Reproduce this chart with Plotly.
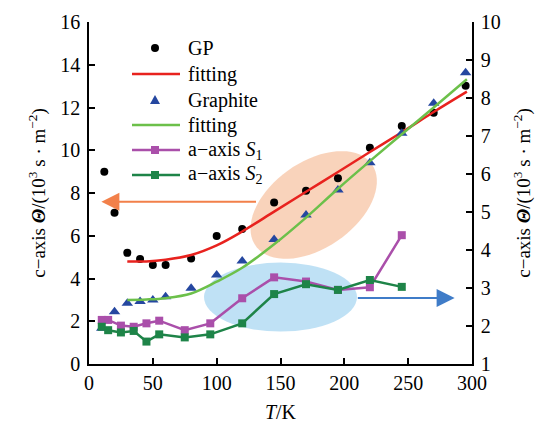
import numpy as np
import plotly.graph_objects as go

# ---------------- data ----------------
gp_T = [12, 20, 30, 40, 50, 60, 80, 100, 120, 145, 170, 195, 220, 245, 270, 295]
gp_theta = [9.0, 7.08, 5.2, 4.91, 4.63, 4.63, 4.93, 5.99, 6.32, 7.55, 8.11, 8.69, 10.12, 11.13, 11.76, 13.02]

gr_T = [10, 20, 30, 40, 50, 60, 80, 100, 120, 145, 170, 195, 220, 245, 270, 295]
gr_theta = [1.67, 2.45, 2.84, 2.92, 2.99, 3.15, 3.54, 4.16, 4.82, 5.83, 6.97, 8.14, 9.42, 10.79, 12.2, 13.63]

fit_T = [30, 45, 60, 80, 100, 120, 145, 170, 195, 220, 245, 270, 296]
fit_gp = [4.8, 4.8, 4.88, 5.1, 5.55, 6.2, 7.13, 8.06, 8.98, 9.92, 10.84, 11.79, 12.74]
fit_gr = [3.0, 3.02, 3.08, 3.3, 3.85, 4.5, 5.6, 6.85, 8.2, 9.49, 10.75, 12.0, 13.32]

s_T = [10, 15, 25, 35, 45, 55, 75, 95, 120, 145, 170, 195, 220, 245]
s1 = [2.16, 2.16, 2.01, 1.98, 2.07, 2.14, 1.89, 2.07, 2.73, 3.28, 3.17, 2.95, 3.02, 4.39]
s2 = [1.98, 1.89, 1.83, 1.87, 1.59, 1.78, 1.70, 1.78, 2.07, 2.84, 3.10, 2.95, 3.21, 3.03]

x_ticks = [0, 50, 100, 150, 200, 250, 300]
y_ticks = [0, 2, 4, 6, 8, 10, 12, 14, 16]
y2_ticks = [1, 2, 3, 4, 5, 6, 7, 8, 9, 10]

legend_names = ["GP", "fitting", "Graphite", "fitting",
                "a\u2212axis <i>S</i><sub>1</sub>", "a\u2212axis <i>S</i><sub>2</sub>"]

# ---------------- layout geometry ----------------
W, H = 539, 425
ML, MR, MT, MB = 89, 67, 22, 61
PW, PH = W - ML - MR, H - MT - MB
XR = (0, 300)
YR = (0, 16)
px_x = PW / (XR[1] - XR[0])
px_y = PH / (YR[1] - YR[0])

FONT = "Times New Roman, Liberation Serif, DejaVu Serif, serif"
ytitle = "c\u2212axis <b><i>\u0398</i></b>/(10<sup>3</sup> s \u00b7 m<sup>\u22122</sup>)"

C_RED, C_LGREEN = "#E8221E", "#6CC04A"
C_BLUE, C_MAG, C_DGREEN = "#2547A0", "#AA4FAA", "#1E8448"

fig = go.Figure()

fig.add_trace(go.Scatter(x=gp_T, y=gp_theta, mode="markers", showlegend=False,
                         marker=dict(symbol="circle", size=8, color="black")))
fig.add_trace(go.Scatter(x=fit_T, y=fit_gp, mode="lines", showlegend=False,
                         line=dict(color=C_RED, width=2.5, shape="spline")))
fig.add_trace(go.Scatter(x=gr_T, y=gr_theta, mode="markers", showlegend=False,
                         marker=dict(symbol="triangle-up", size=10, color=C_BLUE)))
fig.add_trace(go.Scatter(x=fit_T, y=fit_gr, mode="lines", showlegend=False,
                         line=dict(color=C_LGREEN, width=2.5, shape="spline")))
fig.add_trace(go.Scatter(x=s_T, y=s1, mode="lines+markers", showlegend=False,
                         yaxis="y2", line=dict(color=C_MAG, width=2.5),
                         marker=dict(symbol="square", size=8, color=C_MAG)))
fig.add_trace(go.Scatter(x=s_T, y=s2, mode="lines+markers", showlegend=False,
                         yaxis="y2", line=dict(color=C_DGREEN, width=2.5),
                         marker=dict(symbol="square", size=8, color=C_DGREEN)))


def ellipse_path(cx, cy, a_px, b_px, ang_deg, n=72):
    t = np.linspace(0, 2 * np.pi, n)
    th = np.deg2rad(ang_deg)
    dx = a_px * np.cos(t) * np.cos(th) - b_px * np.sin(t) * np.sin(th)
    dy = a_px * np.cos(t) * np.sin(th) + b_px * np.sin(t) * np.cos(th)
    xs = cx + dx / px_x
    ys = cy + dy / px_y
    return "M %f,%f " % (xs[0], ys[0]) + " ".join("L %f,%f" % (x, y) for x, y in zip(xs[1:], ys[1:])) + " Z"


fig.add_shape(type="path", path=ellipse_path(176, 7.44, 71, 43, 35), xref="x", yref="y",
              fillcolor="rgba(248,206,180,0.9)", line=dict(width=0), layer="below")
fig.add_shape(type="circle", x0=150 - 76.5 / px_x, x1=150 + 76.5 / px_x,
              y0=3.13 - 34.5 / px_y, y1=3.13 + 34.5 / px_y, xref="x", yref="y",
              fillcolor="rgba(184,222,244,0.9)", line=dict(width=0), layer="below")

fig.add_annotation(x=9.7, y=7.59, ax=132, ay=7.59, xref="x", yref="y", axref="x", ayref="y",
                   text="", showarrow=True, arrowhead=2, arrowsize=1.8, arrowwidth=2,
                   arrowcolor="#F2804A", standoff=0)
fig.add_annotation(x=286.4, y=3.09, ax=209.4, ay=3.09, xref="x", yref="y", axref="x", ayref="y",
                   text="", showarrow=True, arrowhead=2, arrowsize=1.8, arrowwidth=2,
                   arrowcolor="#3F7CC8", standoff=0)

# ---------------- hand-built legend (pixel layout -> paper coords) ----------------
def PX(p):
    return (p - ML) / PW


def PY(p):
    return (H - MB - p) / PH


LEG_L0, LEG_L1, LEG_M, LEG_T = 132, 180, 155, 186
LEG_ROWS = [48, 74, 100, 125, 150, 175]
legend_style = [
    ("marker", "circle", "black"),
    ("line", None, C_RED),
    ("marker", "triangle", C_BLUE),
    ("line", None, C_LGREEN),
    ("linemarker", "square", C_MAG),
    ("linemarker", "square", C_DGREEN),
]

for name, yy, (kind, sym, col) in zip(legend_names, LEG_ROWS, legend_style):
    if kind in ("line", "linemarker"):
        fig.add_shape(type="line", xref="paper", yref="paper",
                      x0=PX(LEG_L0), x1=PX(LEG_L1), y0=PY(yy), y1=PY(yy),
                      line=dict(color=col, width=2.5))
    if sym == "circle":
        r = 4
        fig.add_shape(type="circle", xref="paper", yref="paper",
                      x0=PX(LEG_M - r), x1=PX(LEG_M + r), y0=PY(yy + r), y1=PY(yy - r),
                      fillcolor=col, line=dict(width=0))
    elif sym == "square":
        r = 4
        fig.add_shape(type="rect", xref="paper", yref="paper",
                      x0=PX(LEG_M - r), x1=PX(LEG_M + r), y0=PY(yy + r), y1=PY(yy - r),
                      fillcolor=col, line=dict(width=0))
    elif sym == "triangle":
        p = "M %f,%f L %f,%f L %f,%f Z" % (PX(LEG_M - 5), PY(yy + 4), PX(LEG_M + 5), PY(yy + 4),
                                           PX(LEG_M), PY(yy - 5))
        fig.add_shape(type="path", xref="paper", yref="paper", path=p,
                      fillcolor=col, line=dict(width=0))
    fig.add_annotation(x=PX(LEG_T), y=PY(yy), xref="paper", yref="paper", text=name,
                       showarrow=False, xanchor="left", yanchor="middle",
                       font=dict(family=FONT, size=20, color="black"))

axis_common = dict(showgrid=False, zeroline=False, showline=True, linecolor="black", linewidth=1.5,
                   ticks="inside", ticklen=6, tickwidth=1.5, tickcolor="black", automargin=False,
                   tickfont=dict(family=FONT, size=20, color="black"))

fig.update_layout(
    width=W, height=H,
    margin=dict(l=ML, r=MR, t=MT, b=MB),
    paper_bgcolor="white", plot_bgcolor="white",
    font=dict(family=FONT, size=19, color="black"),
    xaxis=dict(range=list(XR), tickvals=x_ticks, ticklabelstandoff=0, **axis_common,
               title=dict(text="<i>T</i>/K", font=dict(family=FONT, size=20), standoff=12)),
    yaxis=dict(range=list(YR), tickvals=y_ticks, ticklabelstandoff=3, **axis_common,
               title=dict(text=ytitle, font=dict(family=FONT, size=19), standoff=10)),
    yaxis2=dict(range=[1, 10], tickvals=y2_ticks, overlaying="y", side="right",
                ticklabelstandoff=3, **axis_common,
                title=dict(text=ytitle, font=dict(family=FONT, size=19), standoff=17)),
    showlegend=False,
)

fig.write_html("out.html")
